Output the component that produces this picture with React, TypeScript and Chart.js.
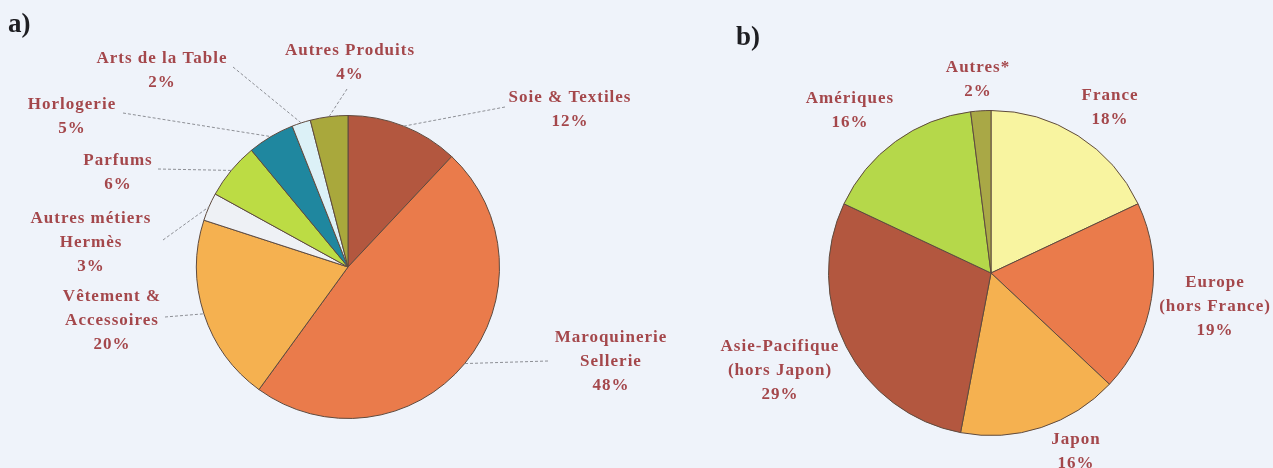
import React, { useEffect, useRef } from "react";
import { Chart, registerables } from "chart.js";

Chart.register(...registerables);

// ---- Data: chart a) (by product)
const categoriesA = [
  "Soie & Textiles",
  "Maroquinerie\nSellerie",
  "Vêtement &\nAccessoires",
  "Autres métiers\nHermès",
  "Parfums",
  "Horlogerie",
  "Arts de la Table",
  "Autres Produits",
];
const valuesA = [12, 48, 20, 3, 6, 5, 2, 4];
const colorsA = ["#b3573f", "#ea7b4b", "#f5b150", "#eef1f5", "#bcdc44", "#1f879f", "#dcf1f7", "#a9a83c"];

// ---- Data: chart b) (by region)
const categoriesB = [
  "France",
  "Europe\n(hors France)",
  "Japon",
  "Asie-Pacifique\n(hors Japon)",
  "Amériques",
  "Autres*",
];
const valuesB = [18, 19, 16, 29, 16, 2];
const colorsB = ["#f8f4a0", "#ea7b4b", "#f5b150", "#b3573f", "#b5d84a", "#a9a846"];

// ---- Layout (label anchors, leader ends) in page pixels
const labelPosA = [
  [570, 98], [611, 338], [112, 297], [91, 219], [118, 161], [72, 105], [162, 59], [350, 51],
];
const leaderEndA = [
  [505, 107], [548, 361], [165, 317], [163, 240], [158, 169], [123, 113], [233, 67], [347, 89],
];
const labelPosB = [
  [1110, 96], [1215, 283], [1076, 440], [780, 347], [850, 99], [978, 68],
];

const W = 1273;
const H = 468;
const LABEL_COLOR = "#a4474b";
const FONT = "bold 17px 'Liberation Serif', 'Times New Roman', serif";

const labelPlugin = {
  id: "pieLabels",
  afterDraw(chart: any, _args: any, opts: any) {
    const ctx = chart.ctx;
    const meta = chart.getDatasetMeta(0);
    const cats: string[] = opts.categories;
    const vals: number[] = opts.values;
    const pos: number[][] = opts.positions;
    const ends: number[][] | null = opts.leaders;
    ctx.save();
    if (ends) {
      ctx.strokeStyle = "#8d8f95";
      ctx.lineWidth = 1;
      ctx.setLineDash([3, 2]);
      meta.data.forEach((arc: any, i: number) => {
        const p = arc.getProps(["x", "y", "startAngle", "endAngle", "outerRadius"], true);
        const mid = (p.startAngle + p.endAngle) / 2;
        const sx = p.x + Math.cos(mid) * p.outerRadius;
        const sy = p.y + Math.sin(mid) * p.outerRadius;
        ctx.beginPath();
        ctx.moveTo(ends[i][0], ends[i][1]);
        ctx.lineTo(sx, sy);
        ctx.stroke();
      });
      ctx.setLineDash([]);
    }
    ctx.fillStyle = LABEL_COLOR;
    ctx.font = FONT;
    try { (ctx as any).letterSpacing = "1px"; } catch (e) {}
    ctx.textAlign = "center";
    ctx.textBaseline = "middle";
    cats.forEach((c, i) => {
      const lines = c.split("\n").concat([`${vals[i]}%`]);
      lines.forEach((ln, k) => {
        ctx.fillText(ln, pos[i][0], pos[i][1] + k * 24);
      });
    });
    ctx.restore();
  },
};

function makeConfig(
  cats: string[],
  vals: number[],
  cols: string[],
  padding: { left: number; right: number; top: number; bottom: number },
  positions: number[][],
  leaders: number[][] | null
): any {
  return {
    type: "pie",
    data: {
      labels: cats.map((c) => c.replace("\n", " ")),
      datasets: [
        {
          data: vals,
          backgroundColor: cols,
          borderColor: "#5e4a3e",
          borderWidth: 1,
        },
      ],
    },
    options: {
      animation: false,
      responsive: false,
      maintainAspectRatio: false,
      layout: { padding },
      events: [],
      plugins: {
        legend: { display: false },
        tooltip: { enabled: false },
        pieLabels: { categories: cats, values: vals, positions, leaders },
      },
    },
    plugins: [labelPlugin],
  };
}

export default function App() {
  const refA = useRef<HTMLCanvasElement>(null);
  const refB = useRef<HTMLCanvasElement>(null);

  useEffect(() => {
    const a = new Chart(
      refA.current!,
      makeConfig(categoriesA, valuesA, colorsA, { left: 196, right: W - 500, top: 115, bottom: H - 419 }, labelPosA, leaderEndA)
    );
    const b = new Chart(
      refB.current!,
      makeConfig(categoriesB, valuesB, colorsB, { left: 828, right: W - 1154, top: 110, bottom: H - 436 }, labelPosB, null)
    );
    return () => {
      a.destroy();
      b.destroy();
    };
  }, []);

  const titleStyle: React.CSSProperties = {
    position: "absolute",
    fontFamily: "'Liberation Serif', 'Times New Roman', serif",
    fontWeight: "bold",
    fontSize: 27,
    color: "#1e1e22",
    lineHeight: "27px",
  };

  return (
    <div
      style={{
        position: "fixed",
        left: 0,
        top: 0,
        width: W,
        height: H,
        background: "#eff3fa",
        overflow: "hidden",
      }}
    >
      <canvas ref={refA} width={W} height={H} style={{ position: "absolute", left: 0, top: 0, width: W, height: H }} />
      <canvas ref={refB} width={W} height={H} style={{ position: "absolute", left: 0, top: 0, width: W, height: H }} />
      <div style={{ ...titleStyle, left: 8, top: 10 }}>a)</div>
      <div style={{ ...titleStyle, left: 736, top: 23 }}>b)</div>
    </div>
  );
}
